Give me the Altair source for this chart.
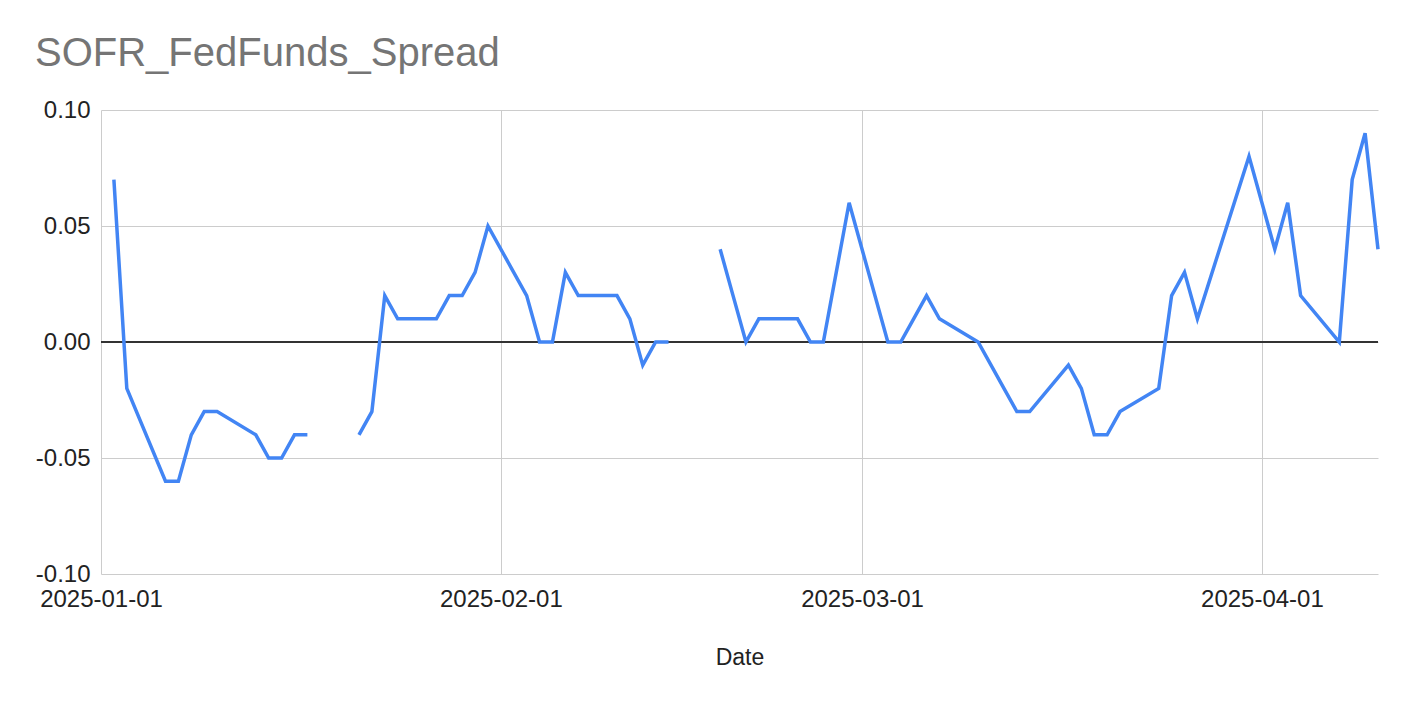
import altair as alt
import pandas as pd

dates = [
    "2025-01-01", "2025-01-02", "2025-01-03", "2025-01-06", "2025-01-07", "2025-01-08",
    "2025-01-09", "2025-01-10", "2025-01-13", "2025-01-14", "2025-01-15", "2025-01-16",
    "2025-01-17", "2025-01-20", "2025-01-21", "2025-01-22", "2025-01-23", "2025-01-24",
    "2025-01-27", "2025-01-28", "2025-01-29", "2025-01-30", "2025-01-31", "2025-02-03",
    "2025-02-04", "2025-02-05", "2025-02-06", "2025-02-07", "2025-02-10", "2025-02-11",
    "2025-02-12", "2025-02-13", "2025-02-14", "2025-02-17", "2025-02-18", "2025-02-19",
    "2025-02-20", "2025-02-21", "2025-02-24", "2025-02-25", "2025-02-26", "2025-02-27",
    "2025-02-28", "2025-03-03", "2025-03-04", "2025-03-05", "2025-03-06", "2025-03-07",
    "2025-03-10", "2025-03-11", "2025-03-12", "2025-03-13", "2025-03-14", "2025-03-17",
    "2025-03-18", "2025-03-19", "2025-03-20", "2025-03-21", "2025-03-24", "2025-03-25",
    "2025-03-26", "2025-03-27", "2025-03-31", "2025-04-01", "2025-04-02", "2025-04-03",
    "2025-04-04", "2025-04-07", "2025-04-08", "2025-04-09", "2025-04-10",
]
spread = [
    None, 0.07, -0.02, -0.06, -0.06, -0.04,
    -0.03, -0.03, -0.04, -0.05, -0.05, -0.04,
    -0.04, None, -0.04, -0.03, 0.02, 0.01,
    0.01, 0.02, 0.02, 0.03, 0.05, 0.02,
    0.00, 0.00, 0.03, 0.02, 0.02, 0.01,
    -0.01, 0.00, 0.00, None, 0.04, 0.02,
    0.00, 0.01, 0.01, 0.00, 0.00, 0.03,
    0.06, 0.00, 0.00, 0.01, 0.02, 0.01,
    0.00, -0.01, -0.02, -0.03, -0.03, -0.01,
    -0.02, -0.04, -0.04, -0.03, -0.02, 0.02,
    0.03, 0.01, 0.08, 0.06, 0.04, 0.06,
    0.02, 0.00, 0.07, 0.09, 0.04,
]
y_ticks = [-0.10, -0.05, 0.00, 0.05, 0.10]
x_ticks = ["2025-01-01", "2025-02-01", "2025-03-01", "2025-04-01"]

# split into contiguous segments at missing values (gaps in the line)
rows = []
seg = 0
for d, v in zip(dates, spread):
    if v is None:
        seg += 1
        continue
    rows.append({"Date": d, "Spread": v, "seg": seg})
df = pd.DataFrame(rows)


def dt(s):
    y, m, d = (int(p) for p in s.split("-"))
    return alt.DateTime(year=y, month=m, date=d, utc=True)


x_enc = alt.X(
    "Date:T",
    title="Date",
    scale=alt.Scale(type="utc", domain=[dt(dates[0]), dt(dates[-1])]),
    axis=alt.Axis(
        values=[dt(s) for s in x_ticks],
        labelExpr="utcFormat(datum.value, '%Y-%m-%d')",
        grid=True,
        gridColor="#cccccc",
        domain=False,
        ticks=False,
        labelFontSize=24,
        labelColor="#222222",
        labelFont="Liberation Sans",
        labelPadding=13,
        labelFlush=False,
        labelOverlap=False,
        titleFontSize=23,
        titleFont="Liberation Sans",
        titleFontWeight="normal",
        titleColor="#222222",
        titlePadding=35,
    ),
)
y_enc = alt.Y(
    "Spread:Q",
    title=None,
    scale=alt.Scale(domain=[-0.1, 0.1], nice=False),
    axis=alt.Axis(
        values=y_ticks,
        labelExpr="datum.value < 0 ? '-' + format(-datum.value, '.2f') : format(datum.value, '.2f')",
        grid=True,
        gridColor="#cccccc",
        domain=False,
        ticks=False,
        labelFontSize=24,
        labelColor="#222222",
        labelFont="Liberation Sans",
        labelPadding=11,
    ),
)

line = alt.Chart(df).mark_line(color="#4285F4", strokeWidth=3.5, strokeJoin="miter").encode(
    x=x_enc, y=y_enc, detail="seg:N"
)
zero = alt.Chart(pd.DataFrame({"z": [0.0]})).mark_rule(color="#333333", strokeWidth=2).encode(
    y=alt.Y("z:Q", scale=alt.Scale(domain=[-0.1, 0.1], nice=False))
)

chart = (
    alt.layer(zero, line)
    .properties(
        width=1277,
        height=464,
        autosize=alt.AutoSizeParams(type="none"),
        padding={"left": 93, "top": 102, "right": 20, "bottom": 110},
        title=alt.TitleParams(
            "SOFR_FedFunds_Spread",
            anchor="start",
            frame="group",
            font="Liberation Sans",
            fontSize=40,
            fontWeight="normal",
            color="#757575",
            dx=-66,
            offset=24,
        ),
    )
    .configure_view(stroke=None)
)

chart.save("out.html", embed_options={"renderer": "svg", "actions": False})
